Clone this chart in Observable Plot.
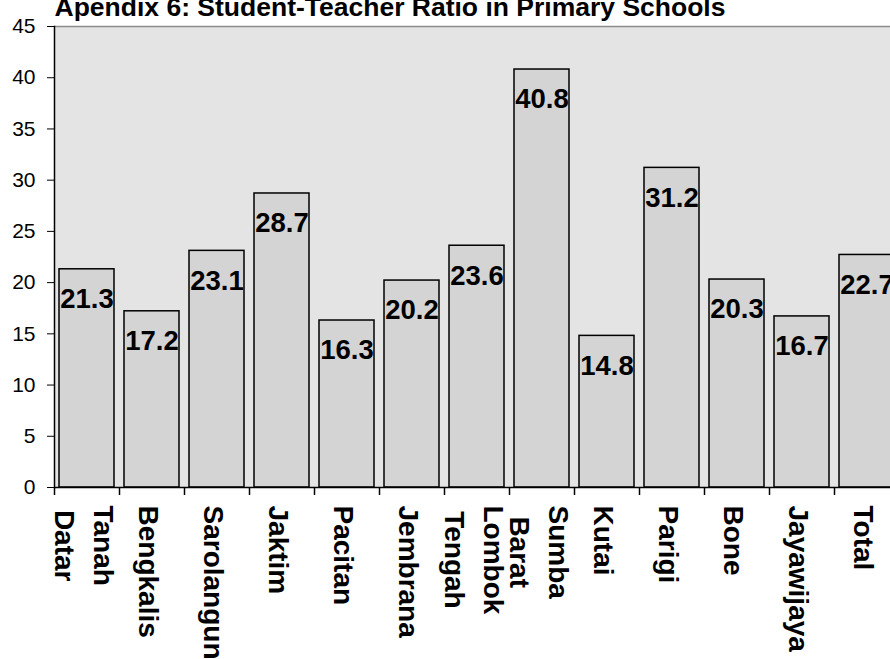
<!DOCTYPE html>
<html>
<head>
<meta charset="utf-8">
<script src="https://cdn.jsdelivr.net/npm/d3@7"></script>
<script src="https://cdn.jsdelivr.net/npm/@observablehq/plot@0.6"></script>
<style>
  html, body { margin: 0; padding: 0; background: #ffffff; overflow: hidden; }
  #chart { width: 890px; height: 659px; overflow: hidden; }
  #chart svg { max-width: none !important; }
</style>
</head>
<body>
<div id="chart"></div>
<script>
// Student-teacher ratio by district (primary schools)
const title = "Apendix 6: Student-Teacher Ratio in Primary Schools";
const districts = [
  "Tanah Datar", "Bengkalis", "Sarolangun", "Jaktim", "Pacitan", "Jembrana",
  "Lombok Tengah", "Sumba Barat", "Kutai", "Parigi", "Bone", "Jayawijaya", "Total"
];
const ratios = [21.3, 17.2, 23.1, 28.7, 16.3, 20.2, 23.6, 40.8, 14.8, 31.2, 20.3, 16.7, 22.7];
const yTicks = [0, 5, 10, 15, 20, 25, 30, 35, 40, 45];

const data = districts.map((name, i) => ({name, value: ratios[i]}));
const font = "'Liberation Sans', Arial, Helvetica, sans-serif";
const stepHalf = 32.5; // half of one band step, used to put x ticks between bars

const chart = Plot.plot({
  width: 900,
  height: 659,
  marginTop: 26,
  marginBottom: 172,
  marginLeft: 54,
  marginRight: 1,
  style: {fontFamily: font, fontSize: "21px", color: "#000", background: "transparent", maxWidth: "none"},
  x: {domain: districts, paddingInner: 0.154, paddingOuter: 0.077, axis: null},
  y: {domain: [0, 45], axis: null},
  marks: [
    Plot.frame({fill: "#e4e4e4", stroke: "none"}),
    Plot.barY(data, {x: "name", y: "value", fill: "#d4d4d4", stroke: "#000", strokeWidth: 1.5}),
    Plot.ruleY([45], {stroke: "#8c8c8c", strokeWidth: 1.5}),
    Plot.ruleY([0], {stroke: "#000", strokeWidth: 1.5}),
    Plot.frame({anchor: "left", stroke: "#000", strokeWidth: 1.5}),
    Plot.axisY({ticks: yTicks, tickSize: 7, tickPadding: 12, fontSize: 21, label: null, tickFormat: d => String(d)}),
    Plot.axisX({tickSize: 8, tickFormat: () => "", label: null, dx: -stepHalf, strokeWidth: 1.5}),
    Plot.text(data, {
      x: "name", y: "value", text: d => d.value.toFixed(1),
      dy: 30, lineAnchor: "middle", fontSize: 27.5, fontWeight: "bold", fill: "#000"
    }),
    Plot.text(districts, {
      x: d => d, text: d => d.replace(" ", "\n"),
      frameAnchor: "bottom", dy: 18, rotate: 90,
      textAnchor: "start", lineAnchor: "middle", lineHeight: 1.4,
      fontSize: 28, fontWeight: "bold", fill: "#000"
    }),
    Plot.text([title], {
      text: d => d, frameAnchor: "top-left", dy: -11,
      textAnchor: "start", lineAnchor: "bottom",
      fontSize: 26.5, fontWeight: "bold", fill: "#000"
    })
  ]
});

chart.style.maxWidth = "none";
document.getElementById("chart").appendChild(chart);

// Center the lines of two-line district names along the rotated text direction
d3.select(chart).selectAll("text").each(function () {
  const t = this.getAttribute("transform") || "";
  if (!t.includes("rotate(90")) return;
  const spans = this.querySelectorAll("tspan");
  if (spans.length < 2) return;
  const maxLen = d3.max(Array.from(spans), s => s.getComputedTextLength());
  this.setAttribute("text-anchor", "middle");
  spans.forEach(s => s.setAttribute("x", maxLen / 2));
});
</script>
</body>
</html>
